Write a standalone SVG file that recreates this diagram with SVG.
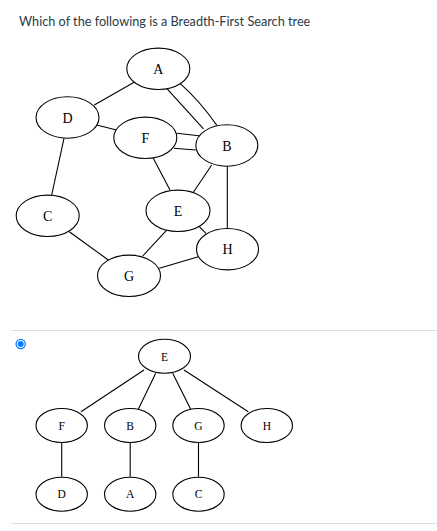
<svg xmlns="http://www.w3.org/2000/svg" width="437" height="531" viewBox="0 0 437 531">
<style>
.n ellipse{fill:#fff;stroke:#000;stroke-width:1.1}
.n text{font-family:"Liberation Serif","Times New Roman",serif;font-size:14px;fill:#000;text-anchor:middle}
.t text{font-size:11.5px}
#edges line,#edges path,#tedges line{stroke:#000;stroke-width:1.1;fill:none}
.sep{stroke:#ddd;stroke-width:1}
</style>
<rect width="437" height="531" fill="#fff"/>
<text x="19" y="26" font-family="Lato, 'Liberation Sans', sans-serif" font-size="12.7" fill="#2d3b45">Which of the following is a Breadth-First Search tree</text>
<g id="edges">
<line x1="135" y1="81.7" x2="94.3" y2="105"/>
<line x1="166.7" y1="88.3" x2="203.5" y2="128.8"/>
<path d="M180,83.3 Q200,101 217,125.5"/>
<line x1="96.7" y1="125" x2="116.5" y2="130"/>
<line x1="176.7" y1="133.3" x2="199" y2="135.8"/>
<line x1="174" y1="148.3" x2="195.5" y2="150"/>
<line x1="64" y1="138.3" x2="51.7" y2="195"/>
<line x1="153.3" y1="158.3" x2="170" y2="190"/>
<line x1="211.7" y1="165" x2="192.7" y2="193.3"/>
<line x1="227.3" y1="166" x2="227.3" y2="228.3"/>
<line x1="69.3" y1="231.7" x2="108.3" y2="260"/>
<line x1="168.3" y1="228.3" x2="142.7" y2="256"/>
<line x1="199.3" y1="226.7" x2="206" y2="233.3"/>
<line x1="159.3" y1="268.3" x2="198.3" y2="256.7"/>
</g>
<g id="A" class="n"><ellipse cx="158.3" cy="68.8" rx="31.5" ry="20.7"/><text x="158.3" y="74">A</text></g>
<g id="D" class="n"><ellipse cx="67.5" cy="117.5" rx="31.5" ry="20.7"/><text x="67.5" y="122.5">D</text></g>
<g id="F" class="n"><ellipse cx="145.3" cy="137.8" rx="31.5" ry="20.7"/><text x="145.3" y="142.5">F</text></g>
<g id="B" class="n"><ellipse cx="226.8" cy="145.5" rx="31" ry="20.7"/><text x="226.8" y="150.5">B</text></g>
<g id="C" class="n"><ellipse cx="47.7" cy="215.8" rx="31.5" ry="20.7"/><text x="47.7" y="220.5">C</text></g>
<g id="E" class="n"><ellipse cx="178" cy="210.8" rx="32" ry="20.7"/><text x="178" y="215.5">E</text></g>
<g id="H" class="n"><ellipse cx="227.5" cy="249.2" rx="31" ry="20.7"/><text x="227.5" y="254">H</text></g>
<g id="G" class="n"><ellipse cx="129" cy="275.8" rx="31.5" ry="20.7"/><text x="129" y="280.5">G</text></g>
<line class="sep" x1="11.5" y1="330.5" x2="437" y2="330.5"/>
<line class="sep" x1="11.5" y1="523.5" x2="437" y2="523.5"/>
<g id="radio"><circle cx="20.7" cy="344" r="4.6" fill="#fff" stroke="#0a7cff" stroke-width="1.3"/><circle cx="20.7" cy="344" r="3" fill="#0a7cff"/></g>
<g id="tedges">
<line x1="144" y1="370" x2="81" y2="411.7"/>
<line x1="155.7" y1="373.3" x2="138.3" y2="409.3"/>
<line x1="172.7" y1="373.3" x2="190.7" y2="409.3"/>
<line x1="184" y1="370" x2="248.3" y2="411.7"/>
<line x1="61.7" y1="442.7" x2="61.7" y2="476.7"/>
<line x1="130.2" y1="442.7" x2="130.2" y2="476.7"/>
<line x1="198.5" y1="442.7" x2="198.5" y2="476.7"/>
</g>
<g id="tE" class="n t"><ellipse cx="164.5" cy="356.3" rx="26" ry="17"/><text x="164.5" y="360.5">E</text></g>
<g id="tF" class="n t"><ellipse cx="61.7" cy="425.5" rx="25.7" ry="17"/><text x="61.7" y="429.7">F</text></g>
<g id="tB" class="n t"><ellipse cx="130.2" cy="425.5" rx="25.7" ry="17"/><text x="130.2" y="429.7">B</text></g>
<g id="tG" class="n t"><ellipse cx="198.5" cy="425.5" rx="25.7" ry="17"/><text x="198.5" y="429.7">G</text></g>
<g id="tH" class="n t"><ellipse cx="266.8" cy="425.5" rx="25.7" ry="17"/><text x="266.8" y="429.7">H</text></g>
<g id="tD" class="n t"><ellipse cx="61.7" cy="494.2" rx="25.7" ry="17"/><text x="61.7" y="498.4">D</text></g>
<g id="tA" class="n t"><ellipse cx="130.2" cy="494.2" rx="25.7" ry="17"/><text x="130.2" y="498.4">A</text></g>
<g id="tC" class="n t"><ellipse cx="198.5" cy="494.2" rx="25.7" ry="17"/><text x="198.5" y="498.4">C</text></g>
</svg>
